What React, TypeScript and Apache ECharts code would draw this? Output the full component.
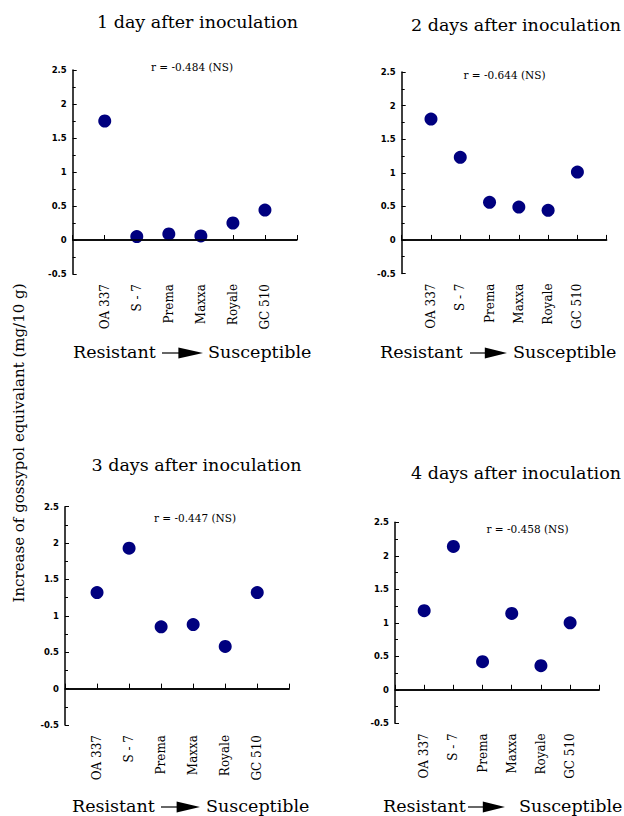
import React, { useEffect, useRef } from 'react';
import * as echarts from 'echarts';

const cultivars = ['OA 337', 'S - 7', 'Prema', 'Maxxa', 'Royale', 'GC 510'];
const day1 = [1.75, 0.05, 0.09, 0.06, 0.25, 0.44];
const day2 = [1.8, 1.23, 0.56, 0.49, 0.44, 1.01];
const day3 = [1.32, 1.93, 0.85, 0.88, 0.58, 1.32];
const day4 = [1.18, 2.14, 0.42, 1.14, 0.36, 1.0];
const panelTitles = [
  '1 day after inoculation',
  '2 days after inoculation',
  '3 days after inoculation',
  '4 days after inoculation',
];
const rLabels = ['r = -0.484 (NS)', 'r = -0.644 (NS)', 'r = -0.447 (NS)', 'r = -0.458 (NS)'];
const yAxisTitle = 'Increase of gossypol equivalant (mg/10 g)';
const leftLabel = 'Resistant';
const rightLabel = 'Susceptible';

const SERIF = 'DejaVu Serif';

// layout (positions only)
const layout = [
  { grid: { left: 72.7, top: 70, width: 224.3, height: 204 }, title: [197.5, 22], r: [192, 67], res: [73, 352], arrow: [162, 203], sus: [208] },
  { grid: { left: 401.7, top: 72, width: 205, height: 201.5 }, title: [516, 25], r: [504.5, 75], res: [380, 352], arrow: [470, 507], sus: [513] },
  { grid: { left: 65, top: 506.7, width: 224.3, height: 218.3 }, title: [196.5, 465], r: [195, 518], res: [72, 806], arrow: [161, 200], sus: [206] },
  { grid: { left: 395, top: 522.3, width: 204.3, height: 201 }, title: [516, 473], r: [527.5, 528.5], res: [383, 806], arrow: [468, 505], sus: [519] },
];

const dataSets = [day1, day2, day3, day4];

function txt(x: number, y: number, text: string, size: number, align: string, rotation = 0) {
  return {
    type: 'text',
    x,
    y,
    rotation,
    style: {
      text,
      fontFamily: SERIF,
      fontSize: size,
      fill: '#000',
      align,
      verticalAlign: 'middle',
    },
  };
}

export default function App() {
  const ref = useRef<HTMLDivElement>(null);
  useEffect(() => {
    if (!ref.current) return;
    const chart = echarts.init(ref.current, undefined, { renderer: 'svg' });

    const grids = layout.map((l) => ({ ...l.grid, containLabel: false }));
    const xAxes = layout.map((_, i) => ({
      type: 'value',
      gridIndex: i,
      min: 0,
      max: 7,
      interval: 1,
      splitLine: { show: false },
      axisLine: { show: true, lineStyle: { color: '#000', width: 1.5 } },
      axisTick: { show: true, inside: true, length: 5, lineStyle: { color: '#000', width: 1 } },
      axisLabel: {
        rotate: 90,
        margin: 10,
        fontFamily: SERIF,
        fontSize: 12,
        color: '#000',
        formatter: (v: number) => cultivars[v - 1] ?? '',
      },
    }));
    const yAxes = layout.map((_, i) => ({
      type: 'value',
      gridIndex: i,
      min: -0.5,
      max: 2.5,
      interval: 0.5,
      splitLine: { show: false },
      axisLine: { show: true, lineStyle: { color: '#000', width: 1.5 } },
      axisTick: { show: true, inside: true, length: 4, lineStyle: { color: '#000' } },
      minorTick: { show: true, splitNumber: 2, length: 3, lineStyle: { color: '#000' } },
      axisLabel: {
        margin: 6,
        fontFamily: 'DejaVu Sans',
        fontWeight: 'bold',
        fontSize: 8.5,
        color: '#000',
      },
    }));
    const series = dataSets.map((d, i) => ({
      type: 'scatter',
      xAxisIndex: i,
      yAxisIndex: i,
      symbol: 'circle',
      symbolSize: 13,
      itemStyle: { color: '#00007f', opacity: 1 },
      data: d.map((v, j) => [j + 1, v]),
      markLine: {
        silent: true,
        symbol: 'none',
        label: { show: false },
        lineStyle: { color: '#000', width: 1.5, type: 'solid' },
        data: [{ yAxis: 0 }],
      },
    }));

    const graphics: any[] = [];
    layout.forEach((l, i) => {
      graphics.push(txt(l.title[0], l.title[1], panelTitles[i], 17.5, 'center'));
      graphics.push(txt(l.r[0], l.r[1], rLabels[i], 10.5, 'center'));
      graphics.push(txt(l.res[0], l.res[1], leftLabel, 17.5, 'left'));
      graphics.push(txt(l.sus[0], l.res[1], rightLabel, 17.5, 'left'));
      const [a0, a1] = l.arrow;
      const yy = l.res[1] + 1;
      const headStart = a0 + (a1 - a0) * 0.4;
      graphics.push({
        type: 'line',
        shape: { x1: a0, y1: yy, x2: headStart + 2, y2: yy },
        style: { stroke: '#000', lineWidth: 1.2 },
      });
      graphics.push({
        type: 'polygon',
        shape: { points: [[headStart, yy - 5.5], [a1, yy], [headStart, yy + 5.5]] },
        style: { fill: '#000' },
      });
    });
    graphics.push(txt(19, 443, yAxisTitle, 15, 'center', Math.PI / 2));

    chart.setOption({
      animation: false,
      backgroundColor: '#fff',
      grid: grids,
      xAxis: xAxes,
      yAxis: yAxes,
      series,
      graphic: graphics,
    });
    return () => chart.dispose();
  }, []);
  return <div ref={ref} style={{ position: 'fixed', left: 0, top: 0, width: 624, height: 816 }} />;
}
